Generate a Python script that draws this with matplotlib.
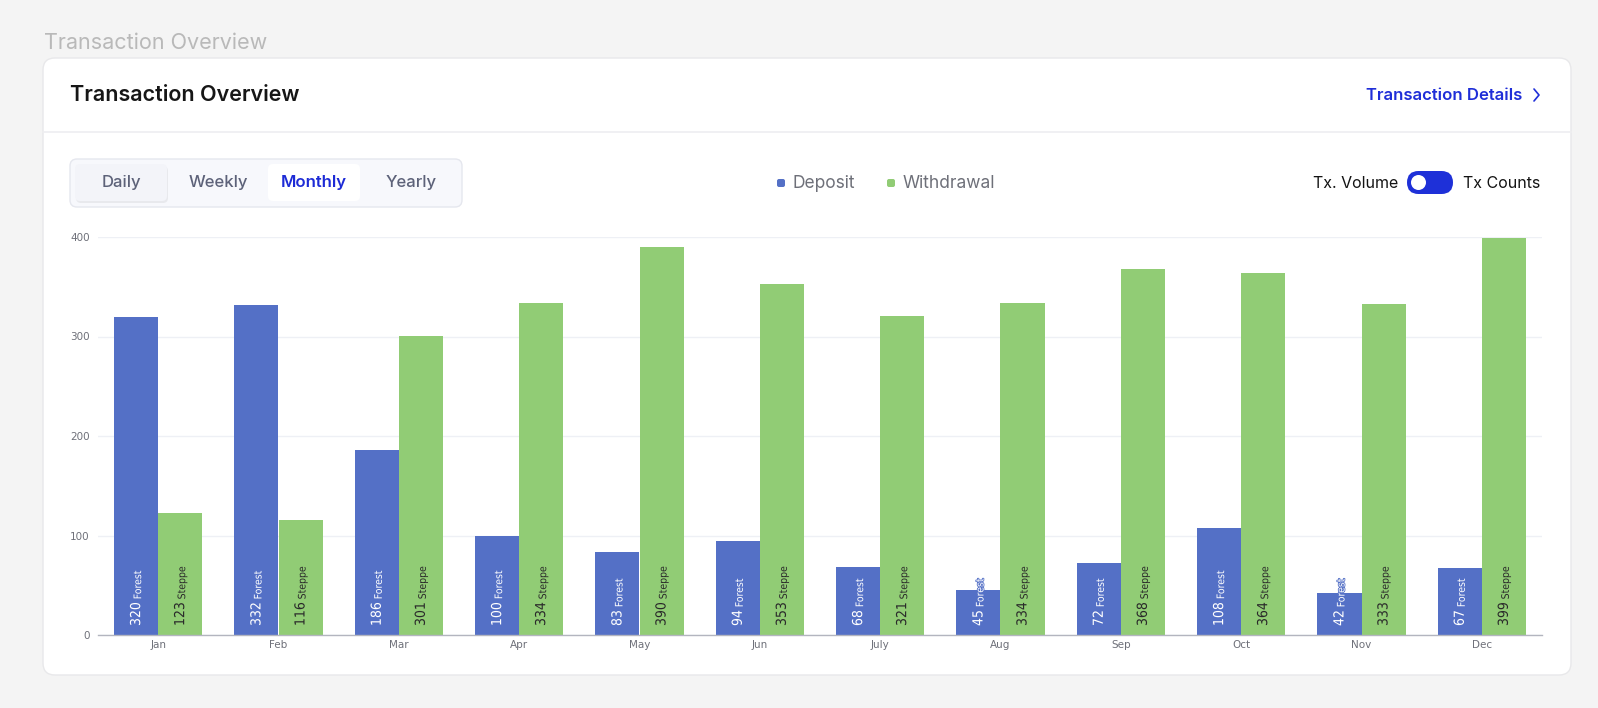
import matplotlib
matplotlib.use("Agg")
import matplotlib.pyplot as plt
from matplotlib.patches import FancyBboxPatch, Circle
import matplotlib.patheffects as pe
import numpy as np

# ---- data ----
months = ["Jan", "Feb", "Mar", "Apr", "May", "Jun", "July", "Aug", "Sep", "Oct", "Nov", "Dec"]
deposit = [320, 332, 186, 100, 83, 94, 68, 45, 72, 108, 42, 67]
withdrawal = [123, 116, 301, 334, 390, 353, 321, 334, 368, 364, 333, 399]
deposit_name = "Forest"
withdrawal_name = "Steppe"
y_ticks = [0, 100, 200, 300, 400]
tabs = ["Daily", "Weekly", "Monthly", "Yearly"]
legend_labels = ["Deposit", "Withdrawal"]

BLUE = "#5470c6"
GREEN = "#91cc75"
UI = ["Inter", "DejaVu Sans"]
NARROW = ["Liberation Sans Narrow", "DejaVu Sans"]

W, H = 1598, 708
fig = plt.figure(figsize=(W / 100, H / 100), dpi=100)
fig.patch.set_facecolor("#f4f4f4")

# background axes in pixel coordinates (origin top-left)
bg = fig.add_axes([0, 0, 1, 1])
bg.set_xlim(0, W)
bg.set_ylim(H, 0)
bg.axis("off")

def rbox(x0, y0, x1, y1, r, fc, ec="none", lw=0, z=1, alpha=1):
    p = FancyBboxPatch((x0 + r, y0 + r), (x1 - x0) - 2 * r, (y1 - y0) - 2 * r,
                       boxstyle=f"round,pad={r}", fc=fc, ec=ec, lw=lw, zorder=z, alpha=alpha)
    bg.add_patch(p)
    return p

# page title
bg.text(44, 43, "Transaction Overview", fontsize=15.5, color="#b9b9b9", family=UI,
        va="center", ha="left")

# card
rbox(43, 58, 1571, 675, 12, "white", ec="#e8e8ea", lw=1, z=1)
bg.plot([43, 1571], [132, 132], color="#eeeef1", lw=1.2, zorder=2)
bg.text(70, 95, "Transaction Overview", fontsize=15.5, weight="semibold", color="#161616",
        family=UI, va="center", ha="left", zorder=3)
bg.text(1522, 95, "Transaction Details", fontsize=12, weight="semibold", color="#1f2ed8",
        family=UI, va="center", ha="right", zorder=3)
bg.plot([1534, 1539, 1534], [89, 95, 101], color="#1f2ed8", lw=1.2, zorder=3,
        solid_capstyle="round", solid_joinstyle="round")

# tabs
rbox(70, 159, 462, 207, 7, "#f7f8fc", ec="#e5e7ee", lw=1, z=2)
rbox(76, 166, 168, 203, 5, "#000000", z=2.5, alpha=0.06)
rbox(75, 164, 167, 201, 5, "#f3f4f9", z=3)
rbox(268, 164, 360, 201, 5, "white", z=3)
tab_x = [121, 218, 314, 411]
for t, x in zip(tabs, tab_x):
    if t == "Monthly":
        bg.text(x, 183, t, fontsize=12, weight="semibold", color="#1d2bd6", family=UI,
                ha="center", va="center", zorder=4)
    else:
        bg.text(x, 183, t, fontsize=12, weight="medium", color="#5d6279", family=UI,
                ha="center", va="center", zorder=4)

# legend
leg_sq_x = [777, 887]
leg_colors = [BLUE, GREEN]
for lab, x, c in zip(legend_labels, leg_sq_x, leg_colors):
    rbox(x, 179, x + 8, 187, 2, c, z=3)
    bg.text(x + 16, 183, lab, fontsize=12.5, color="#6e7079", family=UI,
            ha="left", va="center", zorder=4)

# toggle
bg.text(1398, 183, "Tx. Volume", fontsize=11.5, color="#141414", family=UI,
        ha="right", va="center", zorder=4)
rbox(1407, 171, 1453, 194, 11.5, "#1e30d8", z=3)
bg.add_patch(Circle((1418.5, 182.5), 7.5, fc="white", ec="none", zorder=4))
bg.text(1463, 183, "Tx Counts", fontsize=11.5, color="#141414", family=UI,
        ha="left", va="center", zorder=4)

# ---- chart axes ----
left, right, top, bottom = 98, 1542, 237, 635
ax = fig.add_axes([left / W, 1 - bottom / H, (right - left) / W, (bottom - top) / H])
ax.set_facecolor("none")
x = np.arange(len(months))
bw = 0.366
ax.bar(x - bw / 2, deposit, bw, color=BLUE, zorder=3)
ax.bar(x + bw / 2, withdrawal, bw, color=GREEN, zorder=3)
ax.set_xlim(-0.5, len(months) - 0.5)
ax.set_ylim(0, 400)
ax.set_yticks(y_ticks)
ax.set_yticklabels([str(v) for v in y_ticks])
ax.set_xticks(x)
ax.set_xticklabels(months)
ax.grid(axis="y", color="#eef0f5", lw=1, zorder=0)
ax.set_axisbelow(True)
for s in ["top", "right", "left"]:
    ax.spines[s].set_visible(False)
ax.spines["bottom"].set_color("#b3b5bf")
ax.spines["bottom"].set_linewidth(1)
ax.spines["bottom"].set_zorder(4)
ax.tick_params(axis="both", length=0, labelsize=7.5, labelcolor="#6e7079")
ax.tick_params(axis="y", pad=6)
ax.tick_params(axis="x", pad=3.5)
for lab in ax.get_xticklabels() + ax.get_yticklabels():
    lab.set_family("DejaVu Sans")

def label_bars(xs, vals, name, color, stroke):
    fx = [pe.withStroke(linewidth=1.2, foreground=stroke)]
    for xi, v in zip(xs, vals):
        t = ax.annotate(str(v), xy=(xi, 0), xytext=(0, 9), textcoords="offset pixels",
                        rotation=90, ha="center", va="bottom", fontsize=10,
                        color=color, family=NARROW, fontstretch="condensed", zorder=5,
                        path_effects=fx)
        ax.annotate(name, xy=(1.0, 1.0), xycoords=t, xytext=(0, 3),
                    textcoords="offset pixels", rotation=90, ha="right", va="bottom",
                    fontsize=7.5, color=color, family=NARROW, fontstretch="condensed",
                    zorder=5, annotation_clip=False, path_effects=fx)

label_bars(x - bw / 2, deposit, deposit_name, "white", BLUE)
label_bars(x + bw / 2, withdrawal, withdrawal_name, "#2a2a2a", GREEN)

fig.savefig("out.png", dpi=100, facecolor=fig.get_facecolor())
